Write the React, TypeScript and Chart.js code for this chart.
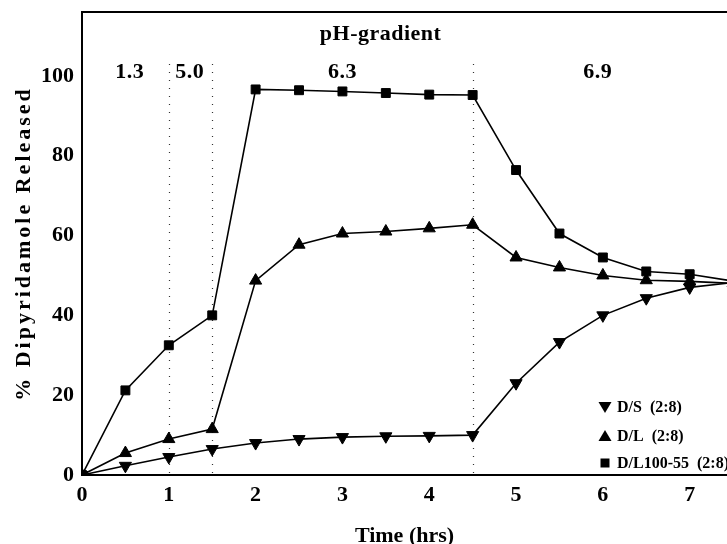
import React, { useEffect, useRef } from 'react';
import { Chart, registerables } from 'chart.js';

Chart.register(...registerables);

const timePoints = [0, 0.5, 1, 1.5, 2, 2.5, 3, 3.5, 4, 4.5, 5, 5.5, 6, 6.5, 7, 7.5];
const dsValues = [0, 2.3, 4.5, 6.5, 8, 9, 9.5, 9.7, 9.8, 10, 23, 33.3, 40, 44.3, 47, 48.2];
const dlValues = [0, 5.5, 9, 11.5, 48.7, 57.7, 60.5, 61, 61.8, 62.7, 54.5, 52, 50, 48.8, 48.5, 48];
const dl100Values = [0, 21.2, 32.5, 40, 96.6, 96.4, 96.1, 95.7, 95.3, 95.2, 76.4, 60.5, 54.5, 51, 50.3, 48.6];
const seriesNames = ['D/S  (2:8)', 'D/L  (2:8)', 'D/L100-55  (2:8)'];
const xTickValues = [0, 1, 2, 3, 4, 5, 6, 7];
const yTickValues = [0, 20, 40, 60, 80, 100];
const phBoundaries = [1, 1.5, 4.5];
const phLabels = ['1.3', '5.0', '6.3', '6.9'];
const phLabelTimes = [0.55, 1.24, 3.0, 5.94];
const phTitle = 'pH-gradient';
const xTitle = 'Time (hrs)';
const yTitle = '% Dipyridamole Released';

const FONT = 'Liberation Serif';

const overlayPlugin = {
  id: 'overlay',
  beforeDatasetsDraw(chart: any) {
    const { ctx, chartArea, scales } = chart;
    const x = scales.x;
    const y = scales.y;
    ctx.save();
    ctx.strokeStyle = '#333';
    ctx.lineWidth = 1.2;
    ctx.setLineDash([1.2, 6.8]);
    phBoundaries.forEach((t) => {
      const px = Math.round(x.getPixelForValue(t)) + 0.5;
      ctx.beginPath();
      ctx.moveTo(px, y.getPixelForValue(103));
      ctx.lineTo(px, chartArea.bottom);
      ctx.stroke();
    });
    ctx.restore();
  },
  afterDraw(chart: any) {
    const { ctx, chartArea, scales } = chart;
    const x = scales.x;
    const y = scales.y;
    ctx.save();
    // top frame line
    ctx.strokeStyle = '#000';
    ctx.lineWidth = 2;
    ctx.beginPath();
    ctx.moveTo(chartArea.left - 1, chartArea.top);
    ctx.lineTo(chartArea.right, chartArea.top);
    ctx.stroke();

    ctx.fillStyle = '#000';
    ctx.textAlign = 'center';
    ctx.textBaseline = 'middle';

    // y axis title (spaced letters as in the scan)
    ctx.save();
    ctx.font = `bold 22px "${FONT}"`;
    (ctx as any).letterSpacing = '3px';
    ctx.translate(24, (chartArea.top + chartArea.bottom) / 2);
    ctx.rotate(-Math.PI / 2);
    ctx.fillText(yTitle, 0, 0);
    ctx.restore();

    // pH labels
    ctx.font = `bold 22px "${FONT}"`;
    (ctx as any).letterSpacing = '0.5px';
    ctx.fillText(phTitle, x.getPixelForValue(3.44), y.getPixelForValue(110.5));
    phLabels.forEach((lab, i) => {
      ctx.fillText(lab, x.getPixelForValue(phLabelTimes[i]), y.getPixelForValue(100.8));
    });
    (ctx as any).letterSpacing = '0px';

    // legend
    const mx = chartArea.right - 122;
    const rows = [chartArea.bottom - 68, chartArea.bottom - 39, chartArea.bottom - 12];
    ctx.font = `bold 16px "${FONT}"`;
    ctx.textAlign = 'left';
    rows.forEach((ry, i) => {
      ctx.beginPath();
      if (i === 0) {
        ctx.moveTo(mx - 6.5, ry - 5);
        ctx.lineTo(mx + 6.5, ry - 5);
        ctx.lineTo(mx, ry + 6);
      } else if (i === 1) {
        ctx.moveTo(mx - 6.5, ry + 5);
        ctx.lineTo(mx + 6.5, ry + 5);
        ctx.lineTo(mx, ry - 6);
      } else {
        ctx.rect(mx - 4.5, ry - 4.5, 9, 9);
      }
      ctx.closePath();
      ctx.fill();
      ctx.fillText(seriesNames[i], mx + 12, ry + 1);
    });
    ctx.restore();
  },
};

export default function App() {
  const ref = useRef<HTMLCanvasElement | null>(null);
  useEffect(() => {
    if (!ref.current) return;
    const mk = (data: number[]) => timePoints.map((t, i) => ({ x: t, y: data[i] }));
    const common = {
      borderColor: '#000',
      backgroundColor: '#000',
      pointBackgroundColor: '#000',
      pointBorderColor: '#000',
      borderWidth: 1.6,
      pointBorderWidth: 1,
      tension: 0,
      fill: false,
    };
    const tickFont = { family: FONT, size: 22, weight: 'bold' as const };
    const chart = new Chart(ref.current, {
      type: 'line',
      data: {
        datasets: [
          { ...common, label: seriesNames[0], data: mk(dsValues), pointStyle: 'triangle', pointRotation: 180, pointRadius: 7 },
          { ...common, label: seriesNames[1], data: mk(dlValues), pointStyle: 'triangle', pointRadius: 7 },
          { ...common, label: seriesNames[2], data: mk(dl100Values), pointStyle: 'rect', pointRadius: 6.3 },
        ],
      },
      options: {
        animation: false,
        responsive: false,
        devicePixelRatio: 1,
        layout: { autoPadding: false, padding: { top: 12, left: 0, right: 0, bottom: 0 } },
        plugins: { legend: { display: false }, tooltip: { enabled: false } },
        scales: {
          x: {
            type: 'linear',
            min: 0,
            max: 7.43,
            grid: { display: false, drawTicks: false, tickLength: 0 },
            border: { display: true, color: '#000', width: 2 },
            ticks: { color: '#000', font: tickFont, padding: 7, maxRotation: 0, autoSkip: false },
            afterBuildTicks: (s: any) => {
              s.ticks = xTickValues.map((v) => ({ value: v }));
            },
            afterFit: (s: any) => {
              s.height = 69;
              s.paddingLeft = 0;
              s.paddingRight = 0;
            },
            title: {
              display: true,
              text: xTitle,
              color: '#000',
              font: { family: FONT, size: 22, weight: 'bold', lineHeight: 0.7 },
              padding: 0,
            },
          },
          y: {
            type: 'linear',
            min: 0,
            max: 116,
            grid: { display: false, drawTicks: false, tickLength: 0 },
            border: { display: true, color: '#000', width: 2 },
            ticks: { color: '#000', font: tickFont, padding: 8 },
            afterBuildTicks: (s: any) => {
              s.ticks = yTickValues.map((v) => ({ value: v }));
            },
            afterFit: (s: any) => {
              s.width = 82;
              s.paddingTop = 0;
              s.paddingBottom = 0;
            },
          },
        },
      },
      plugins: [overlayPlugin],
    });
    return () => chart.destroy();
  }, []);
  return (
    <div style={{ position: 'absolute', left: 0, top: 0, width: 727, height: 544, background: '#fff' }}>
      <canvas ref={ref} width={727} height={544} style={{ display: 'block' }} />
    </div>
  );
}
